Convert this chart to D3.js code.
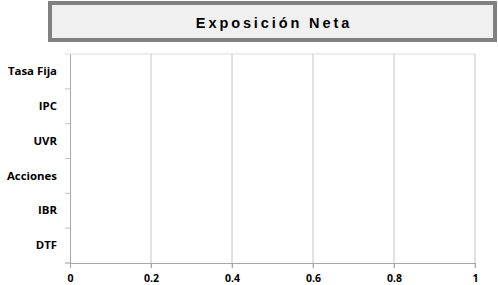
<!DOCTYPE html>
<html>
<head>
<meta charset="utf-8">
<script src="https://cdn.jsdelivr.net/npm/d3@7"></script>
<style>
  body { margin: 0; background: #fff; }
  svg { display: block; }
</style>
</head>
<body>
<div id="chart"></div>
<script>
// chart data
const title = "Exposición Neta";
const categories = ["Tasa Fija", "IPC", "UVR", "Acciones", "IBR", "DTF"];
const values = [0, 0, 0, 0, 0, 0];
const xTicks = [0, 0.2, 0.4, 0.6, 0.8, 1];

const size = {width: 498, height: 285};
const margin = {top: 54, right: 23, bottom: 22, left: 70};
const width = size.width - margin.left - margin.right;
const height = size.height - margin.top - margin.bottom;

const svg = d3.select("#chart").append("svg")
    .attr("width", size.width)
    .attr("height", size.height);

// title box
svg.append("rect")
    .attr("x", 50).attr("y", 3)
    .attr("width", 445).attr("height", 37)
    .attr("fill", "#f0f0f0")
    .attr("stroke", "#808080")
    .attr("stroke-width", 4);
svg.append("text")
    .attr("x", 274).attr("y", 27.5)
    .attr("text-anchor", "middle")
    .style("font-family", "'Liberation Sans', Arial, sans-serif")
    .style("font-weight", "bold")
    .style("font-size", "14.5px")
    .style("letter-spacing", "2.9px")
    .attr("fill", "#000")
    .text(title);

const g = svg.append("g")
    .attr("transform", "translate(" + margin.left + "," + margin.top + ")");

const xScale = d3.scaleLinear().domain([0, 1]).range([0, width]);
const yScale = d3.scaleBand().domain(categories).range([0, height]);

// top border line
g.append("line")
    .attr("x1", -5).attr("x2", width)
    .attr("y1", 0).attr("y2", 0)
    .attr("stroke", "#d9d9d9");

// vertical gridlines
g.selectAll(".grid")
    .data(xTicks.slice(1))
    .join("line")
    .attr("class", "grid")
    .attr("x1", d => xScale(d)).attr("x2", d => xScale(d))
    .attr("y1", 0).attr("y2", height + 5)
    .attr("stroke", "#c4c4c4");

// bars (all zero)
g.selectAll(".bar")
    .data(values)
    .join("rect")
    .attr("class", "bar")
    .attr("x", xScale(0))
    .attr("y", (d, i) => yScale(categories[i]) + yScale.bandwidth() * 0.2)
    .attr("width", d => xScale(d) - xScale(0))
    .attr("height", yScale.bandwidth() * 0.6)
    .attr("fill", "#4f81bd");

// x axis
const xAxisG = g.append("g")
    .attr("transform", "translate(0," + height + ")")
    .call(d3.axisBottom(xScale).tickValues(xTicks).tickFormat(d3.format("")).tickSize(5).tickPadding(7));
xAxisG.select(".domain").attr("stroke", "#a6a6a6");
xAxisG.selectAll(".tick line").attr("stroke", "#a6a6a6");
xAxisG.selectAll(".tick text")
    .attr("fill", "#000")
    .style("font-family", "'Open Sans', sans-serif")
    .style("font-weight", "bold")
    .style("font-size", "10.5px");
xAxisG.append("line")
    .attr("x1", -5).attr("x2", 0)
    .attr("y1", 0).attr("y2", 0)
    .attr("stroke", "#a6a6a6");

// y axis
const yAxisG = g.append("g")
    .call(d3.axisLeft(yScale).tickSize(0).tickPadding(13));
yAxisG.select(".domain").attr("stroke", "#a6a6a6");
yAxisG.selectAll(".tick text")
    .attr("fill", "#000")
    .style("font-family", "'Open Sans', sans-serif")
    .style("font-weight", "bold")
    .style("font-size", "11.4px");

// category boundary ticks
g.selectAll(".ytick")
    .data(categories)
    .join("line")
    .attr("class", "ytick")
    .attr("x1", -5).attr("x2", 0)
    .attr("y1", d => yScale(d) + yScale.bandwidth())
    .attr("y2", d => yScale(d) + yScale.bandwidth())
    .attr("stroke", "#c4c4c4");
</script>
</body>
</html>
